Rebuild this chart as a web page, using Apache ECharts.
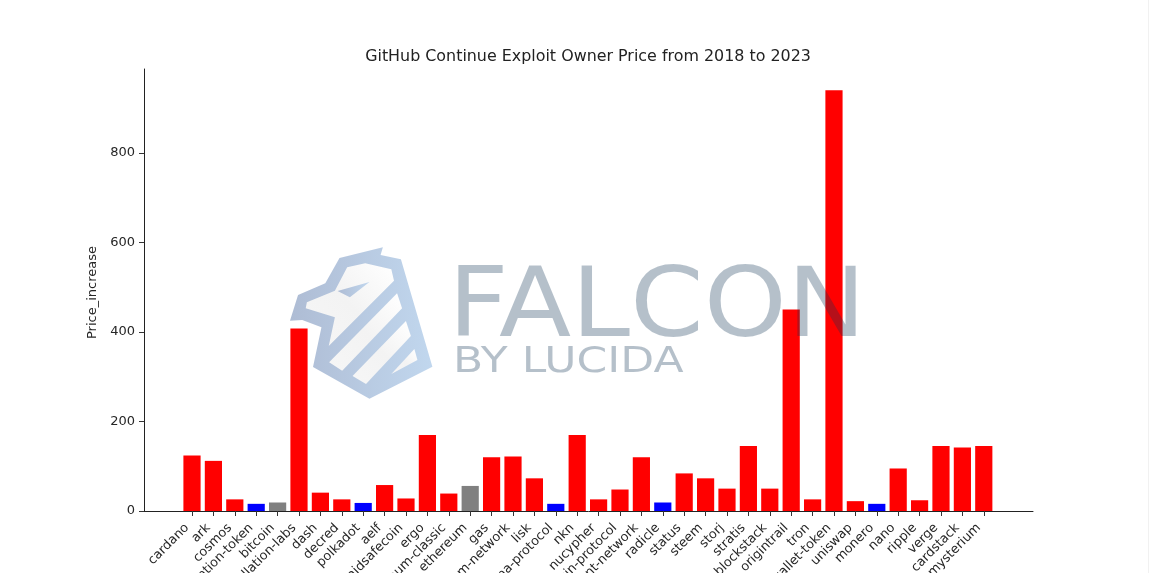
<!DOCTYPE html>
<html>
<head>
<meta charset="utf-8">
<style>html,body{margin:0;padding:0;background:#fff}#c{width:1149px;height:573px}</style>
<script src="https://cdn.jsdelivr.net/npm/echarts@6/dist/echarts.min.js"></script>
</head>
<body>
<div id="c"></div>
<script>
const categories = ['cardano','ark','cosmos','basic-attention-token','bitcoin','constellation-labs','dash','decred','polkadot','aelf','maidsafecoin','ergo','ethereum-classic','ethereum','gas','golem-network','lisk','mina-protocol','nkn','nucypher','origin-protocol','quant-network','radicle','status','steem','storj','stratis','blockstack','origintrail','tron','trust-wallet-token','uniswap','monero','nano','ripple','verge','cardstack','mysterium'];
const priceIncrease = [124,112,26,16,19,408,41,26,18,58,28,170,39,56,120,122,73,16,170,26,48,120,19,84,73,50,145,50,450,26,940,22,16,95,24,145,142,145];
const groups = ['up','up','up','down','flat','up','up','up','down','up','up','up','up','flat','up','up','up','down','up','up','up','up','down','up','up','up','up','up','up','up','up','up','down','up','up','up','up','up'];
const yTicks = [0,200,400,600,800];

const groupColor = {up:'#ff0000', down:'#0000ff', flat:'#808080'};
const FONT = '"DejaVu Sans"';
const TXT = '#262626';

// watermark logo helpers (zoomed-crop coordinates mapped to the page)
const P = pts => pts.map(p => [280 + p[0]/2.605, 240 + p[1]/3]);
const poly = (pts, fill) => ({type:'polygon', z:100, silent:true, shape:{points:P(pts)}, style:{fill}});
const blue = new echarts.graphic.LinearGradient(0,0,1,0,[{offset:0,color:'#aebcd4'},{offset:1,color:'#c1d7ee'}]);
const pale = new echarts.graphic.LinearGradient(1,0,0,1,[{offset:0,color:'#ffffff'},{offset:.5,color:'#f3f3f3'},{offset:1,color:'#f6f6f6'}]);
const wmText = (text,x,y,size,sx) => ({type:'text', z:101, silent:true, x, y, scaleX:sx,
  style:{text, fill:'rgba(16,52,85,0.31)', font:`${size}px ${FONT}`, textVerticalAlign:'top', textAlign:'left'}});

const chart = echarts.init(document.getElementById('c'), null, {renderer:'canvas', width:1149, height:573});
chart.setOption({
  animation:false,
  backgroundColor:'#fff',
  title:{text:'GitHub Continue Exploit Owner Price from 2018 to 2023', left:583, top:44, textAlign:'center',
    textStyle:{fontFamily:FONT, fontSize:15.9, fontWeight:'normal', color:'#222'}},
  grid:{left:144, right:116, top:69, bottom:62, containLabel:false, outerBoundsMode:'none'},
  xAxis:{type:'value', min:-2.243, max:39.3,
    axisLine:{show:true, onZero:false, lineStyle:{color:'#222', width:1}},
    axisTick:{show:true, length:5, customValues:categories.map((_,i)=>i), lineStyle:{color:'#333'}},
    axisLabel:{customValues:categories.map((_,i)=>i), rotate:45, margin:10, padding:[0,7,0,0], fontFamily:FONT, fontSize:12.8, color:TXT,
      formatter:v=>categories[v]},
    splitLine:{show:false}},
  yAxis:{type:'value', min:0, max:987.6,
    name:'Price_increase', nameLocation:'middle', nameGap:44, nameRotate:90,
    nameTextStyle:{fontFamily:FONT, fontSize:13, color:TXT, padding:[0,5,0,0]},
    axisLine:{show:true, onZero:false, lineStyle:{color:'#222', width:1}},
    axisTick:{show:true, length:5, customValues:yTicks, lineStyle:{color:'#333'}},
    axisLabel:{customValues:yTicks, margin:9, fontFamily:FONT, fontSize:13, color:TXT},
    splitLine:{show:false}},
  series:[{type:'bar', barWidth:17.2, silent:true,
    data:priceIncrease.map((v,i)=>({value:[i,v], itemStyle:{color:groupColor[groups[i]]}}))}],
  graphic:{elements:[
    poly([[268,22],[262,45],[315,58],[397,380],[233,476],[86,381],[108,262],[58,240],[26,242],[47,165],[118,130],[155,54]], blue),
    poly([[175,82],[222,70],[290,88],[297,122],[127,318],[143,232],[67,205],[70,187],[143,152]], pale),
    poly([[150,153],[233,126],[182,172]], blue),
    poly([[305,160],[318,205],[162,392],[128,367]], pale),
    poly([[328,243],[341,288],[224,432],[189,408]], pale),
    poly([[350,327],[358,360],[290,402]], pale),
    wmText('FALCON',448,263,96,1.10),
    wmText('BY LUCIDA',453,345,36,1.225),
    {type:'rect', z:1, silent:true, shape:{x:1148,y:0,width:1,height:573}, style:{fill:'#f1f1f1'}}
  ]}
});
</script>
</body>
</html>
